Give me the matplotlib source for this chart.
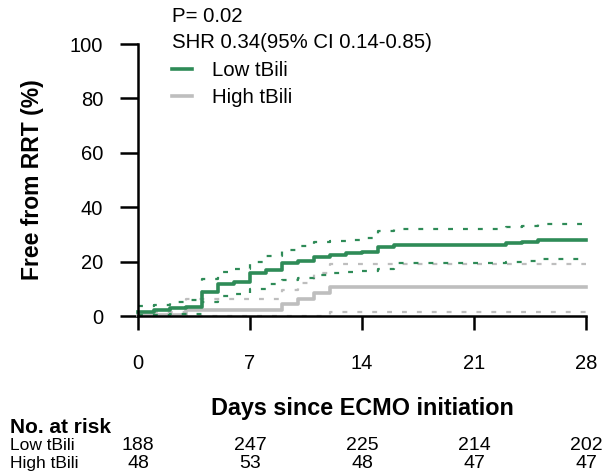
# -*- coding: utf-8 -*-
import matplotlib
matplotlib.use("Agg")
import matplotlib.pyplot as plt

plt.rcParams['font.family'] = ['Liberation Sans', 'DejaVu Sans']

# data (% free from RRT)
days_low = [0, 1, 2, 3, 4, 5, 6, 7, 8, 9, 10, 11, 12, 13, 14, 15, 16, 23, 24, 25, 28]
est_low = [1.6, 2.2, 2.8, 3.4, 9.0, 11.7, 12.6, 15.7, 16.9, 19.4, 20.4, 21.6, 22.3, 23.0, 23.6, 25.5, 26.2, 26.7, 27.2, 27.8, 27.8]
up_low = [3.6, 4.2, 5.3, 5.9, 13.5, 16.2, 17.4, 20.0, 22.2, 24.4, 25.9, 27.1, 27.6, 27.9, 28.8, 31.2, 31.9, 32.6, 33.2, 33.8, 33.8]
lo_low = [0.3, 0.5, 0.8, 0.9, 5.3, 7.4, 8.0, 9.9, 11.6, 13.3, 14.0, 14.9, 15.9, 16.3, 16.7, 17.2, 19.4, 20.0, 20.4, 21.0, 21.0]

days_high = [0, 3, 9, 10, 11, 12, 28]
est_high = [0.4, 2.2, 4.5, 6.4, 8.5, 10.6, 10.6]
up_high = [1.5, 6.1, 9.5, 12.0, 15.7, 19.0, 19.0]
lo_high = [0.0, 0.0, 0.0, 0.0, 0.0, 1.3, 1.3]

xticks = [0, 7, 14, 21, 28]
yticks = [0, 20, 40, 60, 80, 100]
risk_low = [188, 247, 225, 214, 202]
risk_high = [48, 53, 48, 47, 47]

green = "#2E8B57"
grey = "#BEBEBE"

W, H = 603, 473
fig = plt.figure(figsize=(W / 100, H / 100), dpi=100)
ax = fig.add_axes([138 / W, 1 - 316 / H, 448 / W, 272 / H])

dot = (0, (2.2, 4.5))
ax.step(days_high, up_high, where='post', color=grey, lw=1.6, ls=dot, clip_on=False)
ax.step(days_high, lo_high, where='post', color=grey, lw=1.6, ls=dot, clip_on=False)
ax.step(days_high, est_high, where='post', color=grey, lw=2.6, clip_on=False, label="High tBili")
ax.step(days_low, up_low, where='post', color=green, lw=1.6, ls=dot, clip_on=False)
ax.step(days_low, lo_low, where='post', color=green, lw=1.6, ls=dot, clip_on=False)
ax.step(days_low, est_low, where='post', color=green, lw=2.6, clip_on=False, label="Low tBili")

ax.set_xlim(0, 28)
ax.set_ylim(0, 100)
ax.set_xticks(xticks)
ax.set_yticks(yticks)
for s in ['top', 'right']:
    ax.spines[s].set_visible(False)
for s in ['left', 'bottom']:
    ax.spines[s].set_linewidth(1.8)
ax.tick_params(axis='y', direction='out', length=13, width=1.8, pad=12, labelsize=14.5)
ax.tick_params(axis='x', direction='out', length=10, width=1.8, pad=17, labelsize=14.5)

# annotations
ax.text(172 / W, 1 - 17 / H, "P= 0.02", transform=fig.transFigure, fontsize=14.7, va='center', ha='left')
ax.text(172 / W, 1 - 43 / H, "SHR 0.34(95% CI 0.14-0.85)", transform=fig.transFigure, fontsize=14.7, va='center', ha='left')
h, l = ax.get_legend_handles_labels()
ax.legend(h[::-1], l[::-1], loc='upper left', bbox_to_anchor=(172 / W, 1 - 61 / H),
          bbox_transform=fig.transFigure, frameon=False, fontsize=14.7,
          handlelength=1.0, handletextpad=0.95, labelspacing=0.4, borderpad=0, borderaxespad=0)

fig.text(33 / W, 1 - 180 / H, "Free from RRT (%)", rotation=90, fontsize=16.5, fontweight='bold', ha='center', va='center')
fig.text(362 / W, 1 - 408 / H, "Days since ECMO initiation", fontsize=16.8, fontweight='bold', ha='center', va='center')

# number at risk
fig.text(10 / W, 1 - 427 / H, "No. at risk", fontsize=15, fontweight='bold', ha='left', va='center')
fig.text(10 / W, 1 - 445 / H, "Low tBili", fontsize=12.5, ha='left', va='center')
fig.text(10 / W, 1 - 463 / H, "High tBili", fontsize=12.5, ha='left', va='center')
for d, a, b in zip(xticks, risk_low, risk_high):
    xf = ax.transData.transform((d, 0))[0] / W
    fig.text(xf, 1 - 445 / H, str(a), fontsize=14, ha='center', va='center')
    fig.text(xf, 1 - 463 / H, str(b), fontsize=14, ha='center', va='center')

fig.savefig("out.png", dpi=100)
